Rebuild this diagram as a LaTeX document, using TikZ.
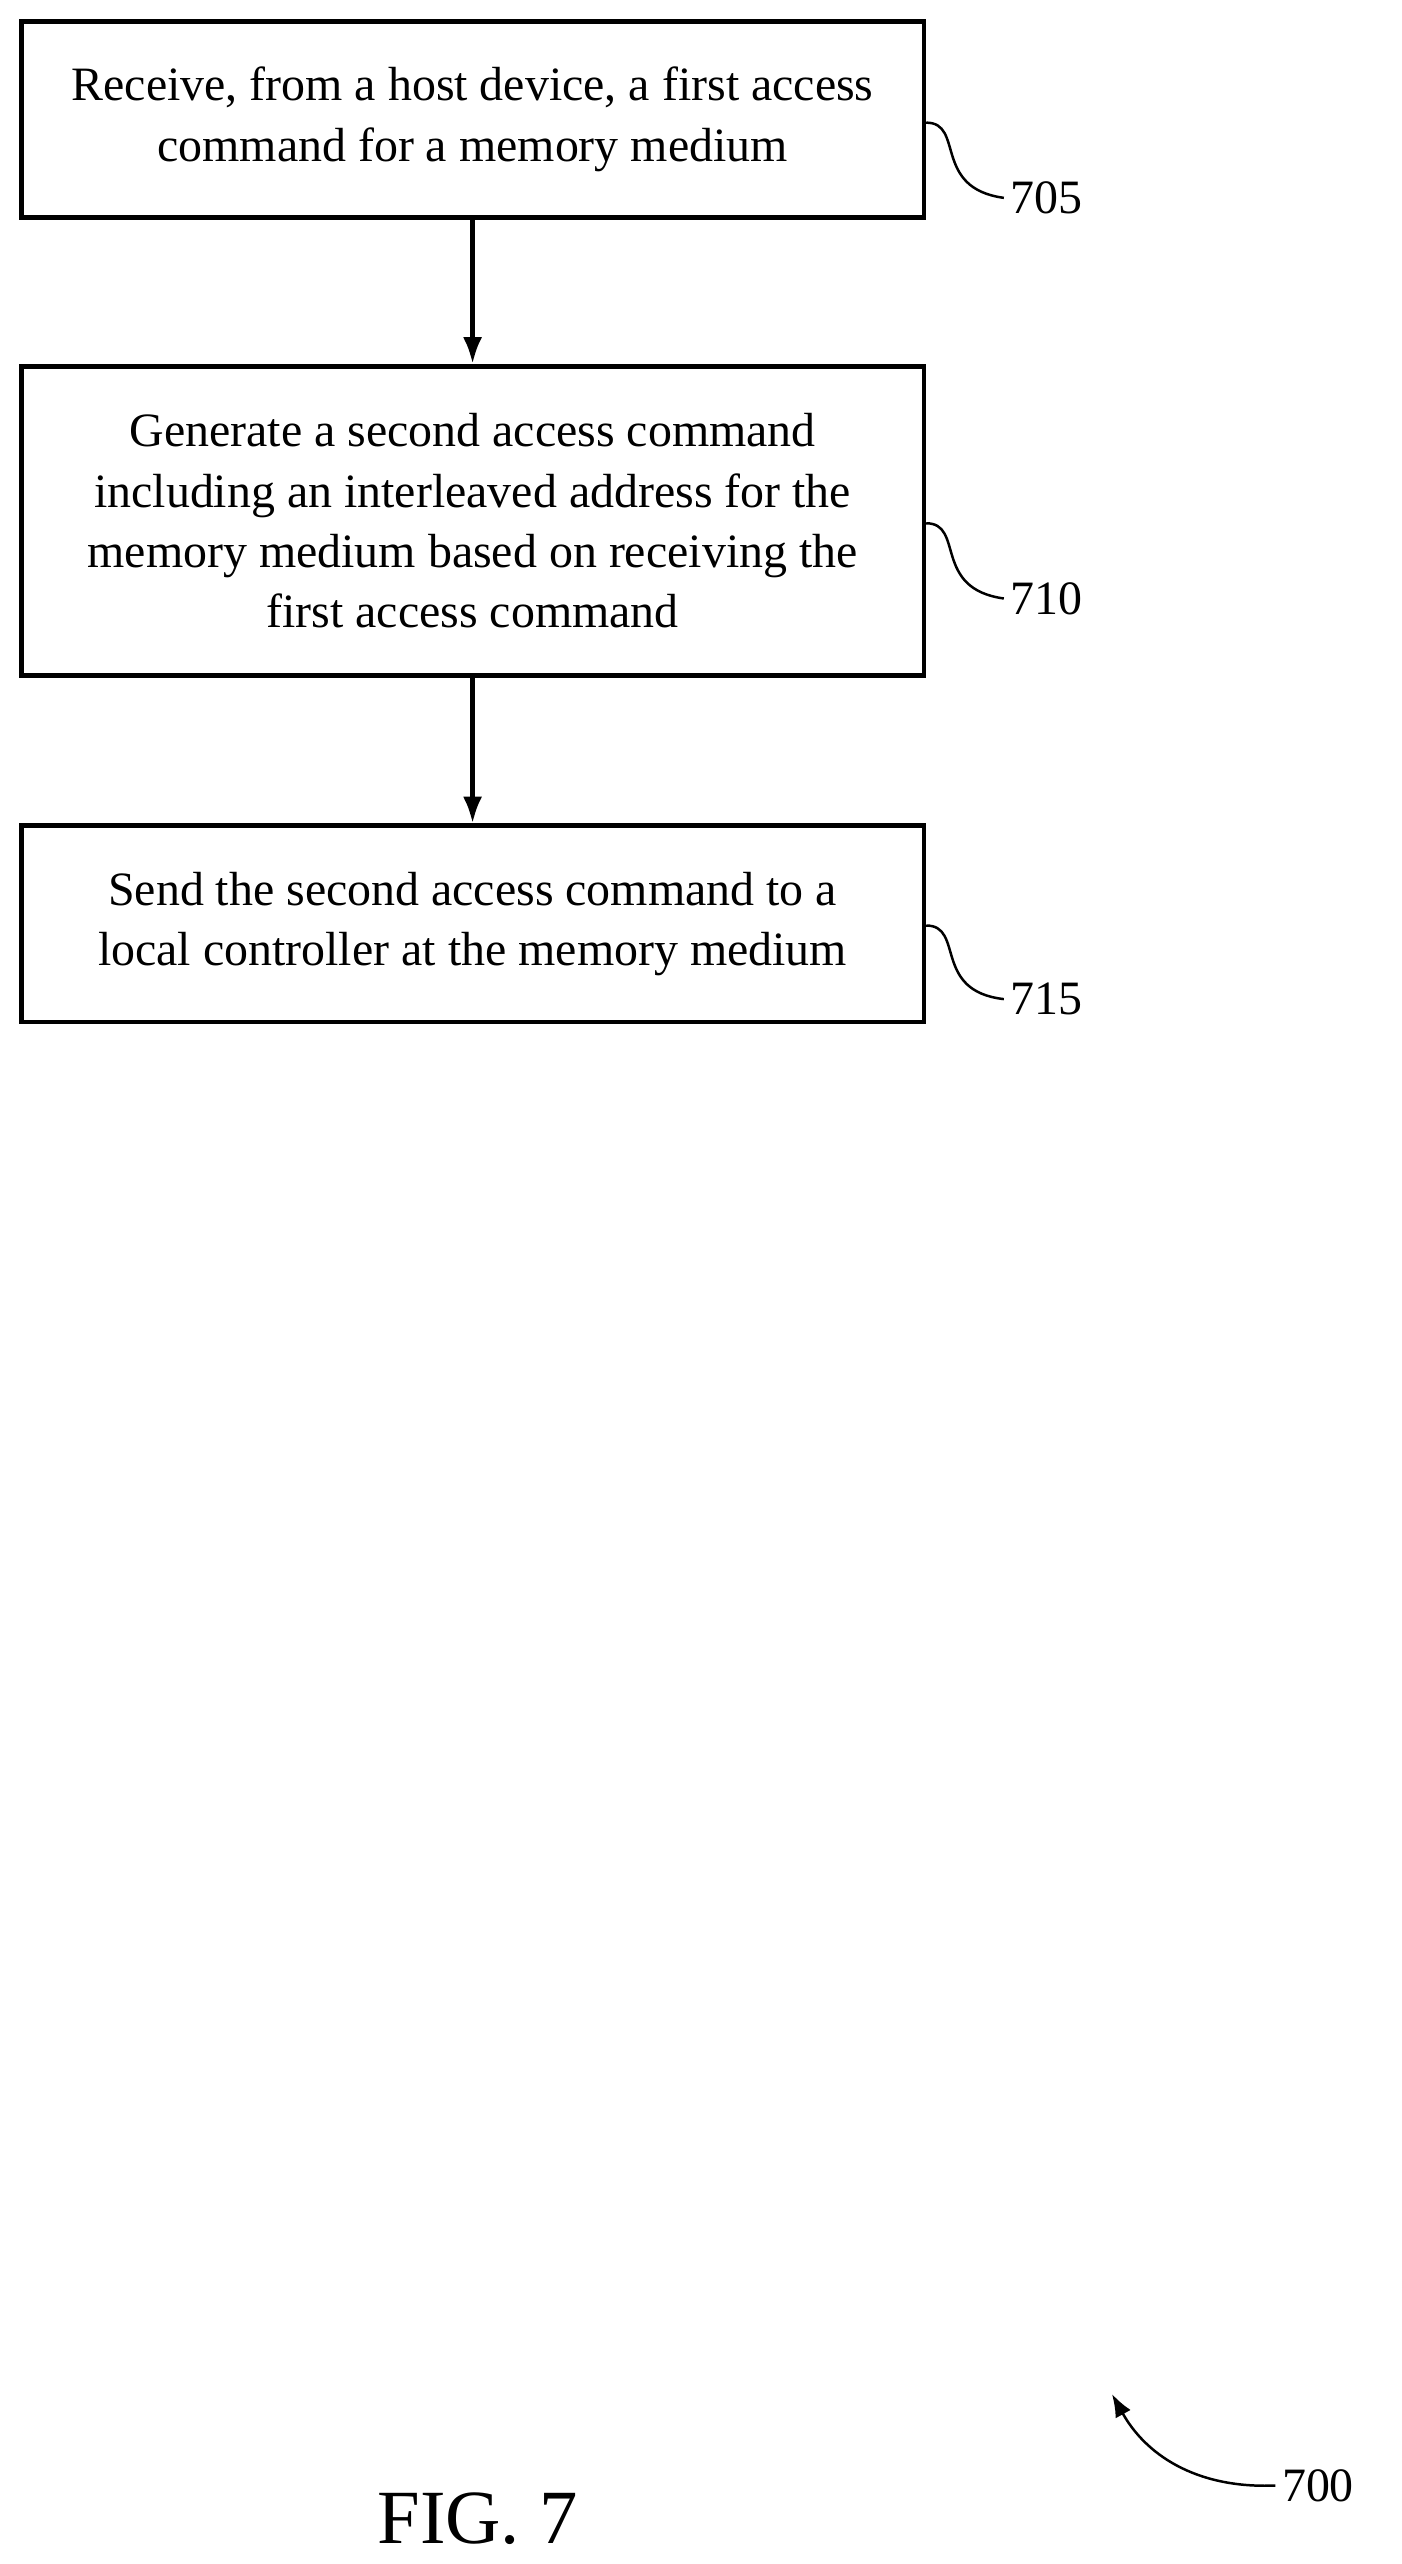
\documentclass[tikz,border=0pt]{standalone}
\usepackage{fontspec}
\setmainfont{Liberation Serif}
\usetikzlibrary{positioning,arrows,arrows.meta}
\begin{document}
\begin{tikzpicture}[
    x=0.03cm, y=-0.03cm,
    >=latex,
    font=\fontsize{25}{31.5}\selectfont,
    stepbox/.style={
		rectangle,
		draw=black,
		line width=2.4pt,
		align=center,
		minimum width=16.56cm,
		fill=white
	},
	reflabel/.style={
		font=\fontsize{25}{30}\selectfont
	}
  ]
  \useasboundingbox (0,0) rectangle (857,1568);
    % the three steps
  \node [stepbox, minimum height=3.6cm] (step705) at (289,73)
   {Receive, from a host device, a first access\\command for a memory medium};
  \node [stepbox, minimum height=5.67cm] (step710) at (289,318.5)
   {Generate a second access command\\including an interleaved address for the\\memory medium based on receiving the\\first access command};
  \node [stepbox, minimum height=3.6cm] (step715) at (289,565)
   {Send the second access command to a\\local controller at the memory medium};

 \draw [-{Latex[length=14pt,width=10pt]}, line width=2.4pt] (step705) -- (step710);
 \draw [-{Latex[length=14pt,width=10pt]}, line width=2.4pt] (step710) -- (step715);

 % reference numbers
 \node [reflabel] (lab705) at (640,121) {705};
 \node [reflabel] (lab710) at (640,366) {710};
 \node [reflabel] (lab715) at (640,611) {715};
 \draw [line width=1.3pt] (step705.east |- 0,75) .. controls (590,75) and (570,115) .. (lab705.west);
 \draw [line width=1.3pt] (step710.east |- 0,320) .. controls (590,320) and (570,360) .. (lab710.west);
 \draw [line width=1.3pt] (step715.east |- 0,566) .. controls (590,566) and (570,606) .. (lab715.west);

 \node [reflabel] (lab700) at (806,1520) {700};
 \draw [-{Latex[length=12pt,width=9pt]}, line width=1.3pt] (lab700.west) .. controls (730,1522) and (700,1500) .. (680,1464);

 \node [font=\fontsize{40}{44}\selectfont] (fig) at (292,1540) {FIG. 7};
\end{tikzpicture}
\end{document}
